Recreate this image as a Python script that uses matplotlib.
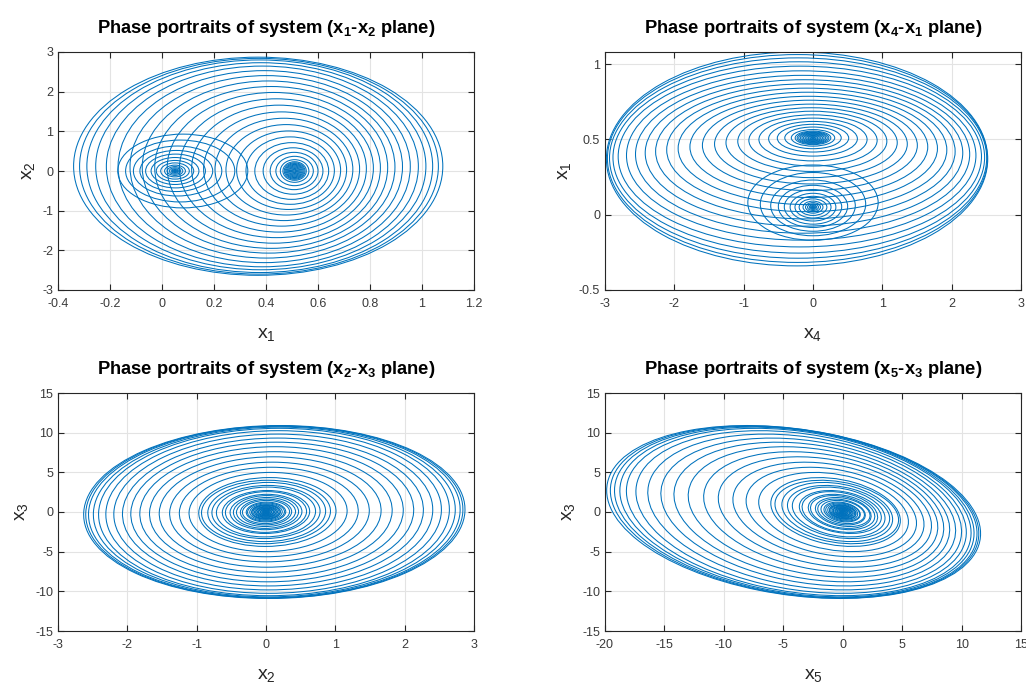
import numpy as np
import matplotlib
matplotlib.use("Agg")
import matplotlib.pyplot as plt
from matplotlib.patches import Ellipse

# Each loop of the trajectory is read off the picture as a centre and a
# half-range per state variable. First the loops round the x1~0.05 focus,
# then the loops round the x1~0.5 focus (inner to outer).
X1_CTR = ([0.05] * 10 + [0.052, 0.055, 0.06, 0.07, 0.08] +
          [0.51] * 11 +
          [0.51, 0.51, 0.508, 0.504, 0.499, 0.493, 0.487, 0.478, 0.469, 0.46,
           0.45, 0.44, 0.43, 0.42, 0.41, 0.401, 0.393, 0.386, 0.38, 0.376,
           0.373, 0.37])
X1_HALF = ([0.003, 0.006, 0.01, 0.015, 0.022, 0.03, 0.04, 0.055, 0.072, 0.092,
            0.115, 0.14, 0.17, 0.21, 0.25] +
           [0.004, 0.008, 0.012, 0.016, 0.02, 0.024, 0.028, 0.032, 0.036, 0.04,
            0.045] +
           [0.055, 0.072, 0.092, 0.115, 0.142, 0.17, 0.2, 0.232, 0.265, 0.3,
            0.336, 0.373, 0.41, 0.448, 0.486, 0.524, 0.562, 0.6, 0.635, 0.665,
            0.69, 0.71])

X2_CTR = ([0.0] * 15 + [0.0] * 11 +
          [0.0, 0.0, 0.0, 0.0, 0.0, 0.01, 0.02, 0.03, 0.04, 0.05,
           0.06, 0.07, 0.08, 0.09, 0.1, 0.105, 0.11, 0.115, 0.12, 0.12,
           0.12, 0.12])
X2_HALF = ([0.011, 0.022, 0.037, 0.056, 0.081, 0.111, 0.148, 0.204, 0.266, 0.34,
            0.426, 0.518, 0.63, 0.78, 0.93] +
           [0.021, 0.042, 0.062, 0.083, 0.104, 0.125, 0.146, 0.166, 0.187, 0.208,
            0.234] +
           [0.285, 0.37, 0.47, 0.585, 0.715, 0.85, 0.99, 1.14, 1.29, 1.44,
            1.6, 1.75, 1.9, 2.04, 2.17, 2.3, 2.42, 2.53, 2.61, 2.68,
            2.72, 2.75])

X3_CTR = [0.0] * 48
X3_HALF = ([0.047, 0.095, 0.16, 0.24, 0.35, 0.48, 0.64, 0.88, 1.14, 1.46,
            1.83, 2.23, 2.71, 3.35, 4.0] +
           [0.092, 0.185, 0.273, 0.365, 0.458, 0.55, 0.642, 0.73, 0.823, 0.915,
            1.03] +
           [1.25, 1.63, 2.07, 2.57, 3.14, 3.73, 4.34, 4.99, 5.64, 6.28,
            6.96, 7.6, 8.23, 8.8, 9.32, 9.82, 10.25, 10.55, 10.7, 10.8,
            10.86, 10.9])

X4_CTR = ([0.0] * 15 + [0.0] * 11 +
          [0.0, 0.0, 0.0, 0.0, 0.0, 0.0, -0.01, -0.02, -0.03, -0.045,
           -0.06, -0.075, -0.09, -0.11, -0.13, -0.15, -0.17, -0.19, -0.205, -0.215,
           -0.225, -0.23])
X4_HALF = ([0.011, 0.022, 0.036, 0.054, 0.079, 0.108, 0.144, 0.2, 0.26, 0.33,
            0.414, 0.5, 0.61, 0.76, 0.94] +
           [0.023, 0.046, 0.068, 0.091, 0.114, 0.137, 0.16, 0.183, 0.206, 0.229,
            0.257] +
           [0.313, 0.407, 0.515, 0.64, 0.78, 0.925, 1.075, 1.235, 1.39, 1.55,
            1.715, 1.87, 2.02, 2.16, 2.29, 2.41, 2.52, 2.62, 2.68, 2.72,
            2.74, 2.75])

X5_CTR = ([0.0] * 11 + [-0.1, -0.2, -0.35, -0.5] + [0.0] * 11 +
          [-0.05, -0.1, -0.16, -0.24, -0.34, -0.46, -0.6, -0.77, -0.96, -1.2,
           -1.5, -1.85, -2.25, -2.6, -2.9, -3.2, -3.5, -3.7, -3.85, -3.95,
           -4.05, -4.13])
X5_HALF = ([0.059, 0.119, 0.2, 0.3, 0.44, 0.6, 0.8, 1.1, 1.43, 1.83,
            2.3, 2.8, 3.45, 4.3, 5.2] +
           [0.112, 0.226, 0.333, 0.445, 0.559, 0.671, 0.783, 0.89, 1.0, 1.12,
            1.26] +
           [1.53, 2.0, 2.55, 3.18, 3.9, 4.66, 5.45, 6.3, 7.17, 8.04,
            8.97, 9.85, 10.75, 11.6, 12.4, 13.2, 13.9, 14.5, 14.9, 15.25,
            15.5, 15.73])

CTR = {1: X1_CTR, 2: X2_CTR, 3: X3_CTR, 4: X4_CTR, 5: X5_CTR}
HALF = {1: X1_HALF, 2: X2_HALF, 3: X3_HALF, 4: X4_HALF, 5: X5_HALF}

# (x variable, y variable, xlim, ylim, xticks, yticks, loop tilt correlation)
PANELS = [
    (1, 2, (-0.4, 1.2), (-3, 3), [-0.4, -0.2, 0, 0.2, 0.4, 0.6, 0.8, 1, 1.2],
     [-3, -2, -1, 0, 1, 2, 3], 0.0),
    (4, 1, (-3, 3), (-0.5, 1.08), [-3, -2, -1, 0, 1, 2, 3], [-0.5, 0, 0.5, 1], 0.0),
    (2, 3, (-3, 3), (-15, 15), [-3, -2, -1, 0, 1, 2, 3],
     [-15, -10, -5, 0, 5, 10, 15], 0.03),
    (5, 3, (-20, 15), (-15, 15), [-20, -15, -10, -5, 0, 5, 10, 15],
     [-15, -10, -5, 0, 5, 10, 15], -0.25),
]

LINE = "#0072BD"

plt.rcParams["font.family"] = ["Liberation Sans", "DejaVu Sans"]
plt.rcParams["mathtext.default"] = "regular"


def loop_patch(cx, cy, rx, ry, rho):
    # ellipse with the given half-ranges along x and y, tilted by rho
    m = np.array([[rx * rx, rho * rx * ry], [rho * rx * ry, ry * ry]])
    vals, vecs = np.linalg.eigh(m)
    ang = np.degrees(np.arctan2(vecs[1, 1], vecs[0, 1]))
    return Ellipse((cx, cy), 2 * np.sqrt(vals[1]), 2 * np.sqrt(vals[0]), angle=ang,
                   fill=False, edgecolor=LINE, linewidth=0.75)


fig = plt.figure(figsize=(10.26, 6.89), dpi=100)
rects = [
    (58 / 1026, 1 - 290 / 689, 416 / 1026, 238 / 689),
    (605 / 1026, 1 - 290 / 689, 416 / 1026, 238 / 689),
    (58 / 1026, 1 - 631 / 689, 416 / 1026, 238 / 689),
    (605 / 1026, 1 - 631 / 689, 416 / 1026, 238 / 689),
]

for rect, (i, j, xlim, ylim, xt, yt, rho) in zip(rects, PANELS):
    ax = fig.add_axes(rect)
    for k in range(len(X1_CTR)):
        ax.add_patch(loop_patch(CTR[i][k], CTR[j][k], HALF[i][k], HALF[j][k], rho))

    ax.set_xlim(*xlim)
    ax.set_ylim(*ylim)
    ax.set_xticks(xt)
    ax.set_yticks(yt)
    ax.set_xticklabels([f"{v:g}" for v in xt])
    ax.set_yticklabels([f"{v:g}" for v in yt])
    ax.set_axisbelow(True)
    ax.grid(True, color="#e3e3e3", linewidth=0.8)
    for s in ax.spines.values():
        s.set_color("#262626")
        s.set_linewidth(0.8)
    ax.tick_params(direction="in", top=True, right=True, length=4, width=0.8,
                   color="#262626", labelcolor="#3a3a3a", labelsize=9)
    ax.tick_params(axis="x", pad=6)
    ax.tick_params(axis="y", pad=3.5)

    ax.set_xlabel(f"$x_{i}$", fontsize=14, color="#262626", labelpad=11)
    ax.set_ylabel(f"$x_{j}$", fontsize=14, color="#262626", labelpad=4)
    ax.set_title(f"Phase portraits of system ($x_{i}$-$x_{j}$ plane)",
                 fontsize=13.2, fontweight="bold", pad=14)

plt.savefig("out.png", dpi=100)
plt.close()
